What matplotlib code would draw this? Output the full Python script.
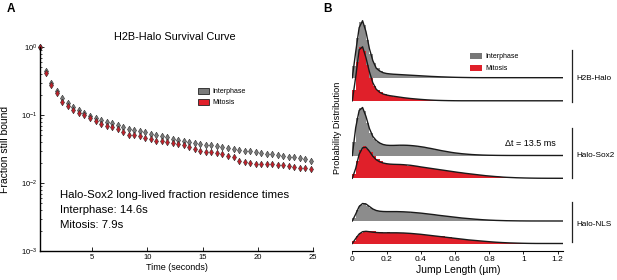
import numpy as np
import matplotlib
matplotlib.use("Agg")
from matplotlib import pyplot as plt
from matplotlib.patches import Rectangle
from matplotlib.lines import Line2D

plt.rcParams['font.family'] = ['Liberation Sans', 'DejaVu Sans']

# ---- panel A: survival curve (fraction still bound vs time) ----
time_s = np.arange(0.3, 25.0, 0.5)
surv_interphase = [1.0, 0.444, 0.296, 0.225, 0.178, 0.150, 0.129, 0.117, 0.108, 0.098,
                   0.090, 0.0844, 0.0789, 0.0750, 0.0701, 0.0659, 0.0622, 0.0592, 0.0572, 0.0553,
                   0.0526, 0.0503, 0.0483, 0.0470, 0.0451, 0.0432, 0.0419, 0.0401, 0.0392, 0.0379,
                   0.0366, 0.0358, 0.0347, 0.0335, 0.0327, 0.0319, 0.0309, 0.0299, 0.0292, 0.0283,
                   0.0279, 0.0270, 0.0264, 0.0258, 0.0252, 0.0244, 0.0239, 0.0231, 0.0223, 0.0214]
surv_mitosis = [1.0, 0.415, 0.273, 0.209, 0.155, 0.136, 0.119, 0.107, 0.0984, 0.0903,
                0.0830, 0.0738, 0.0682, 0.0662, 0.0622, 0.0566, 0.0516, 0.0508, 0.0486, 0.0459,
                0.0439, 0.0419, 0.0410, 0.0397, 0.0384, 0.0371, 0.0358, 0.0335, 0.0313, 0.0296,
                0.0289, 0.0283, 0.0273, 0.0267, 0.0252, 0.0239, 0.0213, 0.0206, 0.0195, 0.0190,
                0.0190, 0.0188, 0.0188, 0.0184, 0.0182, 0.0178, 0.0174, 0.0168, 0.0164, 0.0158]

# ---- panel B: jump length distributions (bins of 0.02 um), fit curves ----
bin_w = 0.02
h2b_int_hist = [12, 40, 56, 53, 38, 24, 15, 10, 7, 5, 4.2, 3.8, 3.4, 3.2, 3.0, 2.8, 2.6, 2.3, 2.2, 2.0,
                1.8, 1.6, 1.4, 1.2, 1.1, 0.9, 0.8, 0.7, 0.55, 0.45, 0.35, 0.3, 0.22, 0.17, 0.12, 0.08,
                0.05, 0.03]
h2b_int_fit = [0, 26, 50, 57, 46, 29, 17, 9.5, 6.7, 5.0, 4.2, 3.8, 3.5, 3.3, 3.1, 2.9, 2.7, 2.5, 2.3,
               2.1, 1.9, 1.7, 1.5, 1.3, 1.15, 1.0, 0.85, 0.75, 0.62, 0.5, 0.4, 0.32, 0.25, 0.2, 0.15,
               0.1, 0.07, 0.05, 0.03]
h2b_mit_hist = [11, 39, 54, 50, 36, 23, 15, 11, 8.5, 6.5, 5.4, 4.8, 4.3, 3.8, 3.3, 2.9, 2.5, 2.1, 1.8,
                1.5, 1.25, 1.0, 0.8, 0.62, 0.48, 0.37, 0.28, 0.2, 0.14, 0.1, 0.06, 0.04]
h2b_mit_fit = [0, 24, 51, 54, 43, 29, 18, 11.5, 8.5, 6.8, 5.8, 5.1, 4.6, 4.1, 3.6, 3.1, 2.7, 2.3, 2.0,
               1.7, 1.4, 1.15, 0.92, 0.72, 0.55, 0.42, 0.32, 0.24, 0.17, 0.12, 0.08, 0.05, 0.03]
sox2_int_hist = [14, 38, 48, 45, 33, 23, 17, 14, 12, 10.8, 10.2, 10.0, 10.3, 10.0, 10.4, 10.1, 9.9, 9.8,
                 9.3, 9.0, 8.4, 8.0, 7.2, 6.6, 6.0, 5.2, 4.6, 4.0, 3.4, 2.8, 2.4, 2.0, 1.6, 1.3, 1.1,
                 0.85, 0.68, 0.52, 0.4, 0.3, 0.22, 0.17, 0.12, 0.08, 0.06, 0.04]
sox2_int_fit = [0, 28, 45, 48, 39, 27, 19, 15, 12.5, 11, 10.3, 10.1, 10.1, 10.2, 10.3, 10.3, 10.2, 10.0,
                9.7, 9.3, 8.8, 8.3, 7.6, 7.0, 6.3, 5.6, 4.9, 4.3, 3.7, 3.1, 2.6, 2.2, 1.8, 1.5, 1.2,
                0.95, 0.75, 0.6, 0.45, 0.35, 0.25, 0.2, 0.14, 0.1, 0.07, 0.05, 0.03]
sox2_mit_hist = [4, 17, 28, 32, 29, 26, 22, 19.5, 17, 15.5, 14.5, 14.0, 13.5, 13.8, 13.2, 13.4, 12.8,
                 12.6, 12.0, 11.8, 11.0, 10.8, 10.0, 9.8, 9.0, 8.7, 8.0, 7.7, 7.1, 6.7, 6.1, 5.7, 5.2,
                 4.8, 4.4, 4.0, 3.6, 3.2, 2.8, 2.5, 2.1, 1.85, 1.6, 1.35, 1.1, 0.92, 0.78, 0.62, 0.5,
                 0.4, 0.3, 0.23, 0.17, 0.12, 0.08, 0.06, 0.04]
sox2_mit_fit = [0, 10, 24, 30.5, 31, 27, 22, 18.5, 16.5, 15.3, 14.6, 14.2, 14.0, 13.9, 13.8, 13.6, 13.3,
                13.0, 12.5, 12.0, 11.4, 10.9, 10.4, 9.9, 9.4, 8.9, 8.4, 7.9, 7.4, 6.9, 6.4, 5.9, 5.5,
                5.0, 4.6, 4.2, 3.8, 3.4, 3.0, 2.6, 2.3, 2.0, 1.7, 1.5, 1.2, 1.0, 0.85, 0.7, 0.55, 0.45,
                0.35, 0.27, 0.2, 0.15, 0.1, 0.07, 0.05, 0.03]
nls_int_hist = [3.5, 11, 16.5, 18, 15.5, 13, 11, 10.3, 10.0, 9.4, 9.6, 9.2, 9.5, 9.1, 9.4, 9.0, 8.9, 8.5,
                8.4, 8.0, 7.7, 7.2, 6.9, 6.5, 6.0, 5.6, 5.2, 4.8, 4.4, 4.0, 3.6, 3.2, 2.9, 2.5, 2.2,
                1.95, 1.65, 1.4, 1.2, 1.0, 0.82, 0.68, 0.55, 0.45, 0.35, 0.28, 0.22, 0.17, 0.12, 0.09,
                0.06, 0.04]
nls_int_fit = [0, 7, 14.5, 17.5, 17, 14.5, 12, 10.5, 9.8, 9.5, 9.4, 9.4, 9.4, 9.4, 9.3, 9.2, 9.0, 8.8,
               8.5, 8.2, 7.9, 7.5, 7.1, 6.7, 6.3, 5.8, 5.4, 5.0, 4.6, 4.2, 3.8, 3.4, 3.0, 2.7, 2.4, 2.1,
               1.8, 1.55, 1.3, 1.1, 0.9, 0.75, 0.6, 0.5, 0.4, 0.3, 0.25, 0.2, 0.15, 0.1, 0.08, 0.05, 0.03]
nls_mit_hist = [2.5, 7.5, 11, 12.5, 12, 12.8, 12.5, 11.5, 11.8, 11, 11.2, 10.5, 11, 10.4, 10.9, 10.2,
                10.4, 9.7, 9.9, 9.2, 9.3, 8.6, 8.5, 7.8, 7.9, 7.0, 7.1, 6.3, 6.2, 5.6, 5.3, 4.7, 4.5,
                3.9, 3.7, 3.2, 3.0, 2.6, 2.4, 2.0, 1.8, 1.5, 1.3, 1.1, 0.9, 0.72, 0.58, 0.46, 0.36,
                0.28, 0.2, 0.14, 0.09, 0.06, 0.04]
nls_mit_fit = [0, 5, 9.5, 11.8, 12.2, 11.8, 11.3, 11.0, 10.8, 10.7, 10.7, 10.7, 10.7, 10.7, 10.6, 10.5,
               10.3, 10.1, 9.8, 9.5, 9.2, 8.8, 8.4, 8.0, 7.6, 7.2, 6.8, 6.4, 6.0, 5.6, 5.2, 4.8, 4.4,
               4.0, 3.6, 3.3, 3.0, 2.7, 2.4, 2.1, 1.8, 1.55, 1.3, 1.1, 0.9, 0.75, 0.6, 0.5, 0.4, 0.3,
               0.22, 0.15, 0.1, 0.06, 0.03]

GRAY = '#8c8c8c'
RED = '#e0202a'
W, H = 617, 280


def fx(px):
    return px / W


def fy(py):
    return (H - py) / H


fig = plt.figure(figsize=(W / 100, H / 100), dpi=100)

# ---------------- panel A ----------------
axA = fig.add_axes([fx(40), fy(251), fx(313) - fx(40), fy(47) - fy(251)])
axA.set_yscale('log')
axA.plot(time_s, surv_interphase, 'd', ms=3.4, mfc='#7a7a7a', mec='#303030', mew=0.4, clip_on=False)
axA.plot(time_s, surv_mitosis, 'd', ms=3.4, mfc='#c0202a', mec='#303030', mew=0.4, clip_on=False)
axA.set_xlim(0.27, 25)
axA.set_ylim(1e-3, 1)
axA.set_xticks([5, 10, 15, 20, 25])
for s in ['top', 'right']:
    axA.spines[s].set_visible(False)
for s in ['left', 'bottom']:
    axA.spines[s].set_linewidth(1.0)
axA.tick_params(which='major', direction='in', length=3, width=0.6, labelsize=5.5, pad=2)
axA.tick_params(which='minor', direction='in', length=1.6, width=0.5)
axA.set_xlabel('Time (seconds)', fontsize=6.5, labelpad=1.5)
axA.set_ylabel('Fraction still bound', fontsize=7.5)
axA.yaxis.set_label_coords(-0.11, 0.5)

fig.text(fx(175), fy(37), 'H2B-Halo Survival Curve', fontsize=7.8, ha='center', va='center')
fig.add_artist(Rectangle((fx(198), fy(94)), fx(11), 6 / H, transform=fig.transFigure,
                         fc='#7a7a7a', ec='#222222', lw=0.6))
fig.add_artist(Rectangle((fx(198), fy(105)), fx(11), 6 / H, transform=fig.transFigure,
                         fc=RED, ec='#222222', lw=0.6))
fig.text(fx(212), fy(91.5), 'Interphase', fontsize=5, va='center')
fig.text(fx(212), fy(102.5), 'Mitosis', fontsize=5, va='center')
fig.text(fx(60), fy(195), 'Halo-Sox2 long-lived fraction residence times', fontsize=8.2, va='center')
fig.text(fx(60), fy(210), 'Interphase: 14.6s', fontsize=8.2, va='center')
fig.text(fx(60), fy(224.5), 'Mitosis: 7.9s', fontsize=8.2, va='center')
fig.text(fx(11), fy(9), 'A', fontsize=8.5, fontweight='bold', ha='center', va='center')

# ---------------- panel B ----------------
axB = fig.add_axes([fx(352.3), fy(251), fx(563.3) - fx(352.3), fy(15) - fy(251)])
axB.set_xlim(0, 1.233)
axB.set_ylim(0, 236)
x_end = 1.23

# (histogram, fit, colour, baseline in pixels from top of figure)
stacks = [
    (h2b_int_hist, h2b_int_fit, GRAY, 77.7),
    (h2b_mit_hist, h2b_mit_fit, RED, 100.8),
    (sox2_int_hist, sox2_int_fit, GRAY, 155.5),
    (sox2_mit_hist, sox2_mit_fit, RED, 178.3),
    (nls_int_hist, nls_int_fit, GRAY, 221.0),
    (nls_mit_hist, nls_mit_fit, RED, 243.5),
]
for k, (hist, fit, col, base_px) in enumerate(stacks):
    base = 251 - base_px
    edges = np.arange(len(hist)) * bin_w
    axB.bar(edges, hist, width=bin_w, bottom=base, align='edge', color=col,
            lw=0, zorder=2 * k + 1)
    fx_pts = np.arange(len(fit)) * bin_w
    # the fit line continues along the baseline to the end of the axis
    fx_pts = np.append(fx_pts, x_end)
    fy_pts = np.append(np.asarray(fit, dtype=float), 0.0) + base
    axB.plot(fx_pts, fy_pts, color='#1a1a1a', lw=1.0, zorder=2 * k + 2)

for s in ['top', 'right', 'left']:
    axB.spines[s].set_visible(False)
axB.spines['bottom'].set_linewidth(0.8)
axB.set_yticks([])
axB.set_xticks([0, 0.2, 0.4, 0.6, 0.8, 1.0, 1.2])
axB.set_xticklabels(['0', '0.2', '0.4', '0.6', '0.8', '1', '1.2'])
axB.tick_params(axis='x', direction='out', length=2, width=0.6, labelsize=6, pad=1.5)
axB.set_xlabel('Jump Length (\u00b5m)', fontsize=7.5, labelpad=1.5)

fig.text(fx(337), fy(128), 'Probability Distribution', fontsize=6.6, rotation=90,
         ha='center', va='center')
fig.text(fx(327), fy(9), 'B', fontsize=8.5, fontweight='bold', ha='center', va='center')

fig.add_artist(Rectangle((fx(470), fy(59)), fx(11.5), 5.5 / H, transform=fig.transFigure,
                         fc='#777777', ec='none'))
fig.add_artist(Rectangle((fx(470), fy(71)), fx(11.5), 5.5 / H, transform=fig.transFigure,
                         fc=RED, ec='none'))
fig.text(fx(485), fy(56.5), 'Interphase', fontsize=5, va='center')
fig.text(fx(485), fy(68.5), 'Mitosis', fontsize=5, va='center')
fig.text(fx(505), fy(143), '\u0394t = 13.5 ms', fontsize=6.5, va='center')

groups = [('H2B-Halo', 50, 101.7, 79), ('Halo-Sox2', 128, 178, 155.7), ('Halo-NLS', 201.7, 241.7, 225)]
for name, y0, y1, yl in groups:
    fig.add_artist(Line2D([fx(571.7), fx(571.7)], [fy(y0), fy(y1)], transform=fig.transFigure,
                          color='#222222', lw=0.9))
    fig.text(fx(576.5), fy(yl), name, fontsize=5.9, va='center')

fig.savefig('out.png', dpi=100)
plt.close(fig)
